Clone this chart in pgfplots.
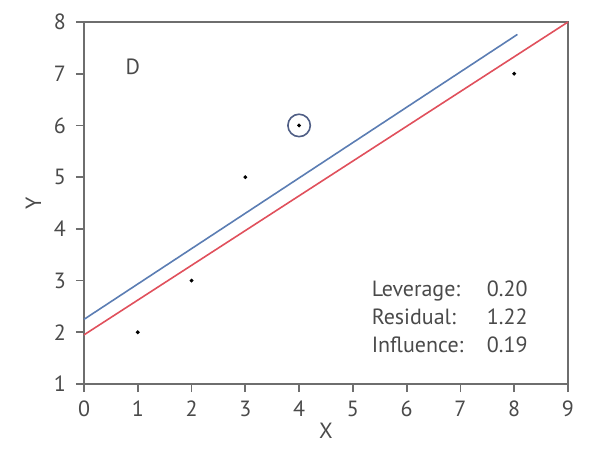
\documentclass[border=0pt]{standalone}
\usepackage{fontspec}
\setmainfont{PT Sans}
\usepackage{pgfplots}
\pgfplotsset{compat=1.18}
\definecolor{axgray}{HTML}{6E6E6E}
\definecolor{txtgray}{HTML}{4A4A4A}
\definecolor{fitblue}{HTML}{5B7DB3}
\definecolor{fitred}{HTML}{E0505C}
\definecolor{ringcol}{HTML}{4F5E85}
\begin{document}
\begin{tikzpicture}
\path[use as bounding box] (-42pt,-33pt) rectangle (253pt,192pt);
\begin{axis}[
    scale only axis,
    width=242pt, height=181pt,
    xmin=0, xmax=9, ymin=1, ymax=8,
    xtick={0,...,9}, ytick={1,...,8},
    axis line style={axgray, line width=1.1pt},
    tick style={axgray, line width=0.9pt},
    major tick length=4pt,
    tick align=outside,
    xtick pos=bottom, ytick pos=left,
    ticklabel style={font=\fontsize{11}{12}\selectfont, text=txtgray},
    xticklabel style={yshift=-1pt},
    yticklabel style={xshift=-1.5pt},
    /pgf/number format/assume math mode=true,
    xlabel={X}, ylabel={Y},
    label style={font=\fontsize{11}{12}\selectfont, text=txtgray},
    xlabel style={yshift=4pt},
    ylabel style={yshift=-0.5pt},
    clip=false,
]
% fitted line without the marked point (red) and with it (blue)
\addplot[fitred, line width=0.8pt] coordinates {(0,1.95) (9,8)};
\addplot[fitblue, line width=0.8pt] coordinates {(0,2.25) (8.06,7.76)};
% data
\addplot[only marks, mark=*, mark size=0.75pt, black] coordinates {(1,2) (2,3) (3,5) (4,6) (8,7)};
\addplot[only marks, mark=o, mark size=5.6pt, mark options={draw=ringcol, line width=0.8pt}] coordinates {(4,6)};
\node[text=txtgray, font=\fontsize{11}{12}\selectfont] at (axis cs:0.91,7.13) {D};
\node[anchor=west, text=txtgray, font=\fontsize{11}{12}\selectfont, align=left] at (axis cs:5.22,2.29)
  {Leverage:\\[2pt]Residual:\\[2pt]Influence:};
\node[anchor=east, text=txtgray, font=\fontsize{11}{12}\selectfont, align=right] at (axis cs:8.38,2.29)
  {0.20\\[2pt]1.22\\[2pt]0.19};
\end{axis}
\end{tikzpicture}
\end{document}
